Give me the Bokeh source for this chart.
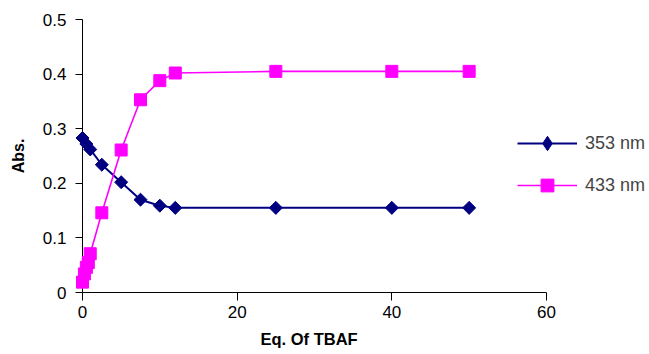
import math
from bokeh.plotting import figure
from bokeh.models import FixedTicker, Legend, LegendItem, Range1d, Title
from bokeh.embed import file_html
from bokeh.resources import INLINE

# data
eq_353 = [0, 0.5, 1, 2.5, 5, 7.5, 10, 12, 25, 40, 50]
abs_353 = [0.283, 0.272, 0.262, 0.234, 0.202, 0.170, 0.159, 0.155, 0.155, 0.155, 0.155]
eq_433 = [0, 0.25, 0.5, 0.75, 1, 2.5, 5, 7.5, 10, 12, 25, 40, 50]
abs_433 = [0.019, 0.034, 0.046, 0.055, 0.071, 0.146, 0.261, 0.353, 0.388, 0.402, 0.405, 0.405, 0.405]
x_ticks = [0, 20, 40, 60]
y_ticks = [0, 0.1, 0.2, 0.3, 0.4, 0.5]
y_labels = ["0", "0.1", "0.2", "0.3", "0.4", "0.5"]
series_names = ["353 nm", "433 nm"]
x_title = "Eq. Of TBAF"
y_title = "Abs."

FONT = "Liberation Sans"
NAVY = "#000080"
MAG = "#FF00FF"
NAN = float("nan")

# axis 0..60 spans 464 px; the frame runs on to the right edge to hold the legend
X_MAX = 60 * (649 - 82) / 464.0

p = figure(width=649, height=354, output_backend="svg", toolbar_location=None,
           x_range=Range1d(0, X_MAX), y_range=Range1d(0, 0.5))
p.min_border_left = 82
p.min_border_right = 0
p.min_border_top = 19
p.min_border_bottom = 62
p.outline_line_color = None
p.grid.visible = False
p.background_fill_color = "white"
p.border_fill_color = "white"

for ax in (p.xaxis[0], p.yaxis[0]):
    ax.axis_line_color = "black"
    ax.major_tick_line_color = "black"
    ax.minor_tick_line_color = None
    ax.major_tick_in = 0
    ax.major_label_text_font = FONT
    ax.major_label_text_font_size = "17px"
    ax.major_label_text_color = "black"
    ax.axis_label_text_font = FONT
    ax.axis_label_text_font_size = "16px"
    ax.axis_label_text_font_style = "bold"
    ax.axis_label_text_color = "black"

p.xaxis.bounds = (0, 60)
p.xaxis.ticker = FixedTicker(ticks=x_ticks)
p.yaxis.ticker = FixedTicker(ticks=y_ticks)
p.yaxis.major_label_overrides = {t: l for t, l in zip(y_ticks, y_labels)}
p.yaxis.axis_label = y_title
p.xaxis.major_tick_out = 8
p.yaxis.major_tick_out = 7
p.xaxis.major_label_standoff = 5
p.yaxis.major_label_standoff = 9
p.yaxis.axis_label_standoff = 13

# x-axis title centred under the 0..60 axis (not under the wider frame)
xt = Title(text=x_title, align="left", offset=178, standoff=14,
           text_font=FONT, text_font_size="16.5px", text_font_style="bold",
           text_color="black")
p.add_layout(xt, "below")

l1 = p.line(eq_353, abs_353, line_color=NAVY, line_width=2)
m1 = p.scatter(eq_353, abs_353, marker="square", angle=math.pi / 4, size=9.2,
               fill_color=NAVY, line_color=NAVY, level="overlay")
l2 = p.line(eq_433, abs_433, line_color=MAG, line_width=1.6)
m2 = p.scatter(eq_433, abs_433, marker="square", size=12,
               fill_color=MAG, line_color=MAG, level="overlay")
# legend-only marker for the diamond (legend draws markers unrotated); NaN so nothing is plotted
m1_leg = p.scatter([NAN], [NAN], marker="diamond", size=12, fill_color=NAVY, line_color=NAVY)

common = dict(orientation="vertical", background_fill_alpha=0, border_line_color=None,
              label_text_font=FONT, label_text_font_size="18px", glyph_width=60,
              padding=0, margin=0, label_standoff=8, spacing=0)
leg1 = Legend(items=[LegendItem(label=series_names[0], renderers=[l1, m1_leg])],
              location=(435, 131), glyph_height=36, **common)
leg2 = Legend(items=[LegendItem(label=series_names[1], renderers=[l2, m2])],
              location=(435, 91), glyph_height=32, **common)
p.add_layout(leg1, "center")
p.add_layout(leg2, "center")

open("out.html", "w").write(file_html(p, INLINE))
